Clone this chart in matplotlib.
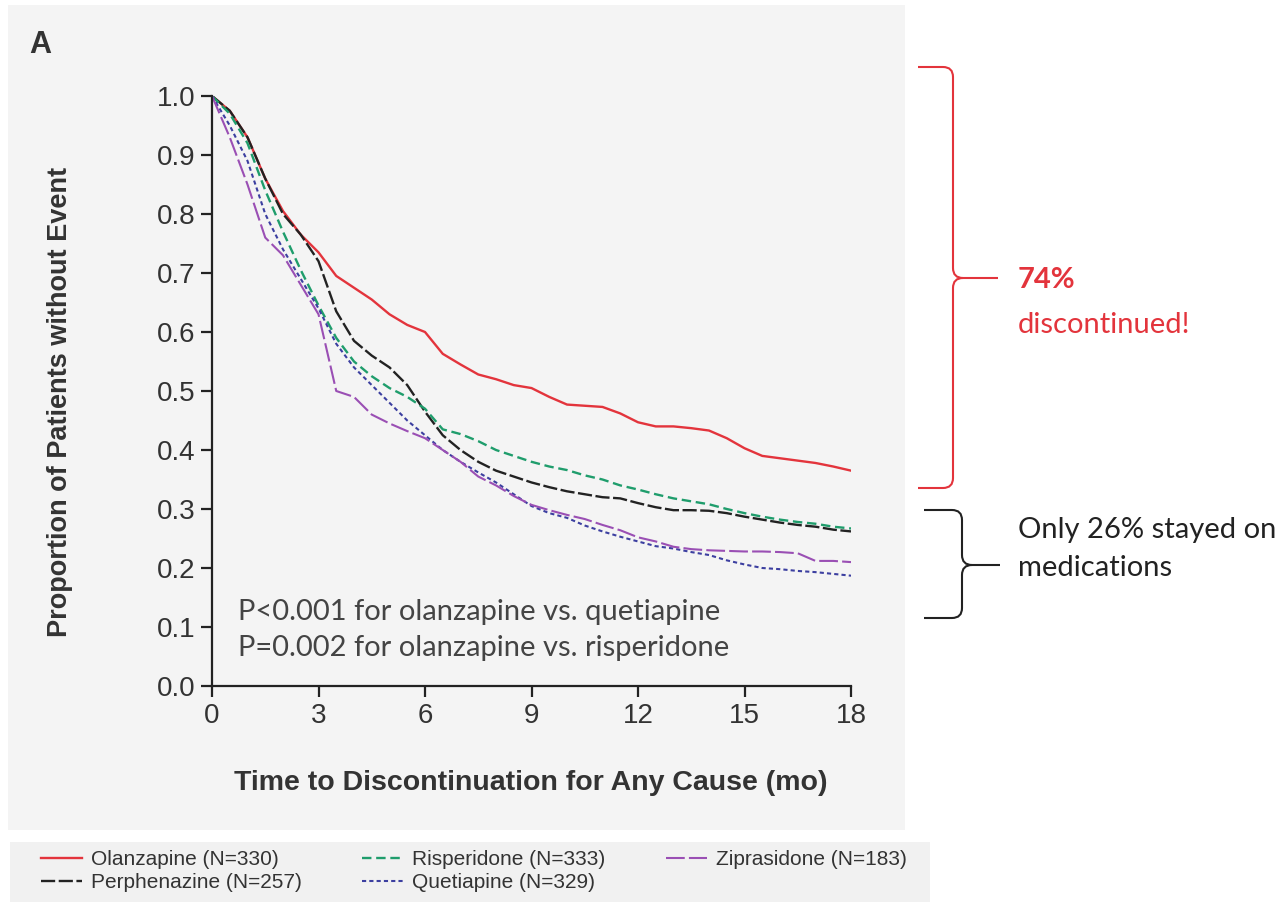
import matplotlib
matplotlib.use("Agg")
import matplotlib.pyplot as plt
from matplotlib.patches import Rectangle, PathPatch
from matplotlib.path import Path

# time points (months)
months = [0, 0.5, 1, 1.5, 2, 2.5, 3, 3.5, 4, 4.5, 5, 5.5, 6, 6.5, 7, 7.5, 8, 8.5, 9,
          9.5, 10, 10.5, 11, 11.5, 12, 12.5, 13, 13.5, 14, 14.5, 15, 15.5, 16, 16.5,
          17, 17.5, 18]

olanzapine = [1.0, 0.975, 0.93, 0.86, 0.805, 0.765, 0.735, 0.695, 0.675, 0.655, 0.63,
              0.612, 0.60, 0.563, 0.545, 0.528, 0.52, 0.51, 0.505, 0.49, 0.477, 0.475,
              0.473, 0.462, 0.447, 0.44, 0.44, 0.437, 0.433, 0.42, 0.403, 0.39, 0.386,
              0.382, 0.378, 0.372, 0.365]
perphenazine = [1.0, 0.975, 0.93, 0.86, 0.80, 0.765, 0.72, 0.635, 0.585, 0.56, 0.54,
                0.51, 0.465, 0.425, 0.40, 0.38, 0.365, 0.355, 0.345, 0.337, 0.33, 0.325,
                0.32, 0.318, 0.31, 0.303, 0.298, 0.298, 0.297, 0.293, 0.287, 0.282,
                0.277, 0.273, 0.27, 0.265, 0.262]
risperidone = [1.0, 0.97, 0.92, 0.84, 0.77, 0.705, 0.645, 0.59, 0.55, 0.525, 0.505,
               0.49, 0.47, 0.435, 0.427, 0.415, 0.40, 0.39, 0.38, 0.372, 0.366, 0.357,
               0.35, 0.34, 0.333, 0.325, 0.318, 0.313, 0.308, 0.30, 0.293, 0.287, 0.282,
               0.278, 0.275, 0.27, 0.267]
quetiapine = [1.0, 0.95, 0.89, 0.80, 0.74, 0.69, 0.64, 0.58, 0.54, 0.51, 0.48, 0.45,
              0.425, 0.40, 0.38, 0.362, 0.345, 0.325, 0.305, 0.293, 0.285, 0.272, 0.262,
              0.253, 0.245, 0.237, 0.233, 0.227, 0.222, 0.213, 0.206, 0.20, 0.198,
              0.195, 0.193, 0.19, 0.187]
ziprasidone = [1.0, 0.93, 0.85, 0.76, 0.73, 0.68, 0.63, 0.50, 0.49, 0.46, 0.445, 0.432,
               0.42, 0.40, 0.38, 0.355, 0.34, 0.322, 0.307, 0.298, 0.29, 0.283, 0.273,
               0.264, 0.252, 0.245, 0.236, 0.232, 0.23, 0.229, 0.228, 0.228, 0.227,
               0.225, 0.212, 0.212, 0.21]

labels = ["Olanzapine (N=330)", "Perphenazine (N=257)", "Risperidone (N=333)",
          "Quetiapine (N=329)", "Ziprasidone (N=183)"]
xticks = [0, 3, 6, 9, 12, 15, 18]
yticks = [0.0, 0.1, 0.2, 0.3, 0.4, 0.5, 0.6, 0.7, 0.8, 0.9, 1.0]

narrow = ["Liberation Sans", "DejaVu Sans"]
W, H = 1286, 902

fig = plt.figure(figsize=(W / 100, H / 100), dpi=100)
fig.patch.set_facecolor("white")


def px(x, y):
    # figure pixel (from top-left) -> figure fraction
    return x / W, 1 - y / H


# gray panel behind chart and legend strip
fig.add_artist(Rectangle(px(8, 830), 897 / W, 825 / H, transform=fig.transFigure,
                         facecolor="#f4f4f4", edgecolor="none", zorder=0))
fig.add_artist(Rectangle(px(10, 902), 920 / W, 60 / H, transform=fig.transFigure,
                         facecolor="#f1f1f1", edgecolor="none", zorder=0))

l, b = px(212, 686)
r, t = px(851, 96)
ax = fig.add_axes([l, b, r - l, t - b])
ax.set_facecolor("none")

ax.plot(months, olanzapine, color="#e3343c", lw=1.7, ls="-", label=labels[0])
ax.plot(months, perphenazine, color="#222222", lw=1.7, ls=(0, (6, 1.5)), label=labels[1])
ax.plot(months, risperidone, color="#1f9d6c", lw=1.7, ls=(0, (4, 2)), label=labels[2])
ax.plot(months, quetiapine, color="#3c3fa0", lw=1.5, ls=(0, (2, 1.5)), label=labels[3])
ax.plot(months, ziprasidone, color="#9a4fb4", lw=1.5, ls=(0, (9, 2)), label=labels[4])

ax.set_xlim(0, 18)
ax.set_ylim(0, 1.0)
ax.set_xticks(xticks)
ax.set_xticklabels([str(v) for v in xticks])
ax.set_yticks(yticks)
ax.set_yticklabels(["%.1f" % v for v in yticks])
for s in ["top", "right"]:
    ax.spines[s].set_visible(False)
for s in ["left", "bottom"]:
    ax.spines[s].set_linewidth(1.6)
    ax.spines[s].set_color("#222222")
ax.tick_params(axis="both", direction="out", length=8, width=1.6, color="#222222",
               labelsize=20, labelcolor="#333333", pad=4)
for lab in ax.get_xticklabels() + ax.get_yticklabels():
    lab.set_family(narrow)

ax.text(0.04, 0.125, "P<0.001 for olanzapine vs. quetiapine", transform=ax.transAxes,
        fontsize=21, family=["Lato", "DejaVu Sans"], color="#444444", va="center")
ax.text(0.04, 0.064, "P=0.002 for olanzapine vs. risperidone", transform=ax.transAxes,
        fontsize=21, family=["Lato", "DejaVu Sans"], color="#444444", va="center")

# axis titles and panel letter
fig.text(*px(60, 402), "Proportion of Patients without Event", rotation=90,
         ha="center", va="center", fontsize=19.5, fontweight="bold", family=narrow,
         color="#333333")
fig.text(*px(531, 783), "Time to Discontinuation for Any Cause (mo)", ha="center",
         va="center", fontsize=20.5, fontweight="bold", family=narrow, color="#333333")
fig.text(*px(40, 45), "A", ha="center", va="center", fontsize=22, fontweight="bold",
         family=["Liberation Sans", "DejaVu Sans"], color="#333333")


def brace(x0, xs, xtip, ytop, ymid, ybot, color):
    # curly brace opening to the left, tip pointing right
    c = 10
    verts = [px(x0, ytop), px(xs - c, ytop), px(xs, ytop), px(xs, ytop + c),
             px(xs, ymid - c), px(xs, ymid), px(xs + c, ymid),
             px(xtip, ymid)]
    codes = [Path.MOVETO, Path.LINETO, Path.CURVE3, Path.CURVE3,
             Path.LINETO, Path.CURVE3, Path.CURVE3, Path.LINETO]
    verts2 = [px(xs + c, ymid), px(xs, ymid), px(xs, ymid + c),
              px(xs, ybot - c), px(xs, ybot), px(xs - c, ybot), px(x0, ybot)]
    codes2 = [Path.MOVETO, Path.CURVE3, Path.CURVE3, Path.LINETO,
              Path.CURVE3, Path.CURVE3, Path.LINETO]
    p = Path(verts + verts2, codes + codes2)
    fig.add_artist(PathPatch(p, transform=fig.transFigure, facecolor="none",
                             edgecolor=color, lw=1.5))


brace(918, 953, 998, 67, 278, 488, "#e3343c")
brace(924, 962, 1000, 510, 565, 618, "#222222")

ann = ["Lato", "DejaVu Sans"]
fig.text(*px(1018, 280), "74%", fontsize=21, fontweight="bold", color="#e3343c",
         family=ann, va="center")
fig.text(*px(1018, 325), "discontinued!", fontsize=21, color="#e3343c",
         family=ann, va="center")
fig.text(*px(1018, 530), "Only 26% stayed on", fontsize=21, color="#222222",
         family=ann, va="center")
fig.text(*px(1018, 568), "medications", fontsize=21, color="#222222",
         family=ann, va="center")

handles, labs = ax.get_legend_handles_labels()
leg = fig.legend(handles, labs, loc="center left", bbox_to_anchor=px(22, 871), ncol=3,
                 frameon=False, prop={"family": narrow, "size": 15},
                 handlelength=2.0, handletextpad=0.4, columnspacing=2.9,
                 labelspacing=0.2)
for txt in leg.get_texts():
    txt.set_color("#333333")

fig.savefig("out.png", dpi=100, facecolor="white")
